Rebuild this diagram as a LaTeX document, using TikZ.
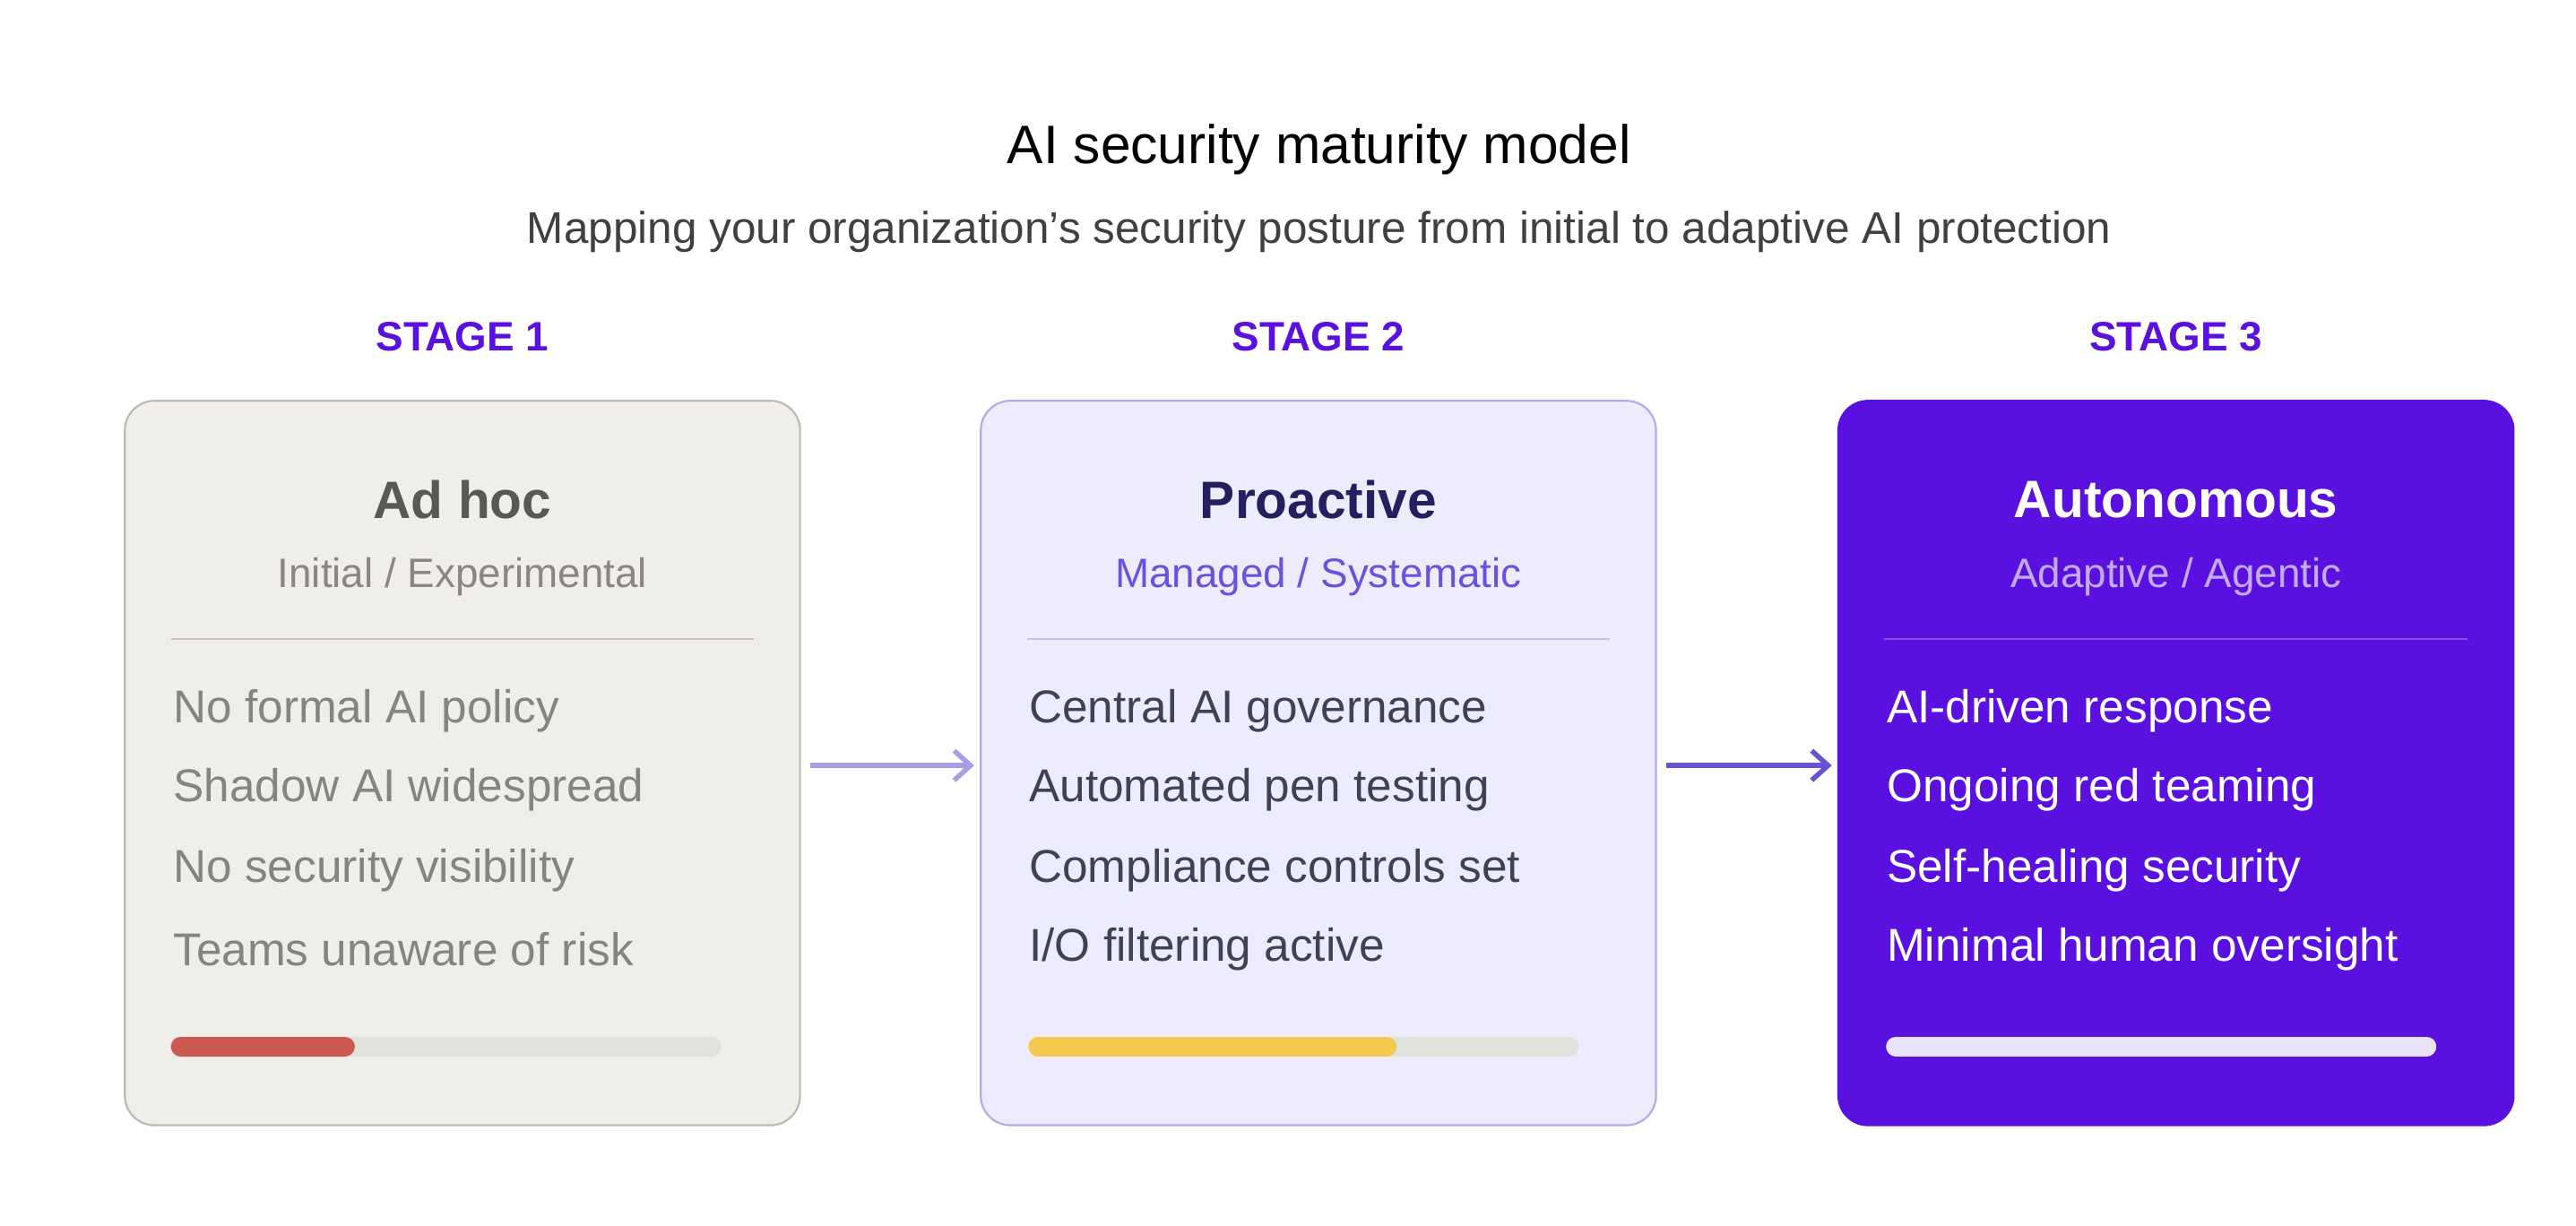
\documentclass[tikz,border=0pt]{standalone}
\usepackage{fontspec}
\setmainfont{Liberation Sans}
\usetikzlibrary{arrows.meta}
\definecolor{vio}{HTML}{5A10DF}
\begin{document}
\begin{tikzpicture}[x=1pt,y=-1pt,
  card/.style={rounded corners=18pt,line width=1.2pt},
  ttl/.style={font=\fontsize{32}{36}\selectfont\bfseries,anchor=center},
  sub/.style={font=\fontsize{25}{28}\selectfont,anchor=center},
  item/.style={font=\fontsize{28}{32}\selectfont,anchor=west},
  stage/.style={font=\fontsize{25}{28}\selectfont\bfseries,text=vio,anchor=center},
  bar/.style={line width=12pt,line cap=round},
  arr/.style={line width=3pt,-{Straight Barb[length=10pt,width=18pt,line width=3pt]}}]
\useasboundingbox (0,0) rectangle (1568,746);
\fill[white] (0,0) rectangle (1568,746);
\node[font=\fontsize{33}{38}\selectfont] (t) at (803,91) {AI security maturity model};
\node[font=\fontsize{27}{32}\selectfont,text=black!75] (st) at (803,141) {Mapping your organization's security posture from initial to adaptive AI protection};
% cards
\def\card#1#2#3#4#5#6#7#8#9{}
\foreach \x/\n/\fillc/\drawc/\tc/\sc/\ic/\dc/\T/\S/\A/\B/\C/\D in {
 76/1/F0EEE9/BDBAB2/5A5853/8A8782/86847F/C8C5BE/Ad hoc/Initial \slash\ Experimental/No formal AI policy/Shadow AI widespread/No security visibility/Teams unaware of risk,
 597/2/EDECFC/B3ABEA/241F5E/6A52E0/3E4352/C7C3EC/Proactive/Managed \slash\ Systematic/Central AI governance/Automated pen testing/Compliance controls set/I\slash O filtering active,
 1119/3/5A10DF/5A10DF/FFFFFF/C4ABF7/FFFFFF/8552E8/Autonomous/Adaptive \slash\ Agentic/AI-driven response/Ongoing red teaming/Self-healing security/Minimal human oversight}{
  \definecolor{cf}{HTML}{\fillc}\definecolor{cd}{HTML}{\drawc}\definecolor{ct}{HTML}{\tc}
  \definecolor{cs}{HTML}{\sc}\definecolor{ci}{HTML}{\ic}\definecolor{cdv}{HTML}{\dc}
  \draw[card,fill=cf,draw=cd] (\x,244) rectangle ++(411,441);
  \node[stage] (s\n) at (\x+205.5,205) {STAGE \n};
  \node[ttl,text=ct] (h\n) at (\x+205.5,304) {\T};
  \node[sub,text=cs] (u\n) at (\x+205.5,351) {\S};
  \draw[cdv,line width=1.2pt] (\x+28,389) -- (\x+383,389);
  \node[item,text=ci] at (\x+26,433) {\A};
  \node[item,text=ci] at (\x+26,481) {\B};
  \node[item,text=ci] at (\x+26,530) {\C};
  \node[item,text=ci] at (\x+26,578) {\D};
  \coordinate (c\n) at (\x,466);
}
\draw[bar,color={rgb,255:red,227;green,225;blue,219}] (110,637) -- (433,637);
\draw[bar,color={rgb,255:red,205;green,90;blue,82}] (110,637) -- (210,637);
\draw[bar,color={rgb,255:red,227;green,225;blue,219}] (632,637) -- (955,637);
\draw[bar,color={rgb,255:red,242;green,201;blue,76}] (632,637) -- (844,637);
\draw[bar,color={rgb,255:red,233;green,226;blue,251}] (1154,637) -- (1477,637);
\draw[arr,color={rgb,255:red,168;green,158;blue,230}] ([xshift=417pt]c1) -- ([xshift=-4pt]c2);
\draw[arr,color={rgb,255:red,106;green,79;blue,216}] ([xshift=417pt]c2) -- ([xshift=-4pt]c3);
\end{tikzpicture}
\end{document}
